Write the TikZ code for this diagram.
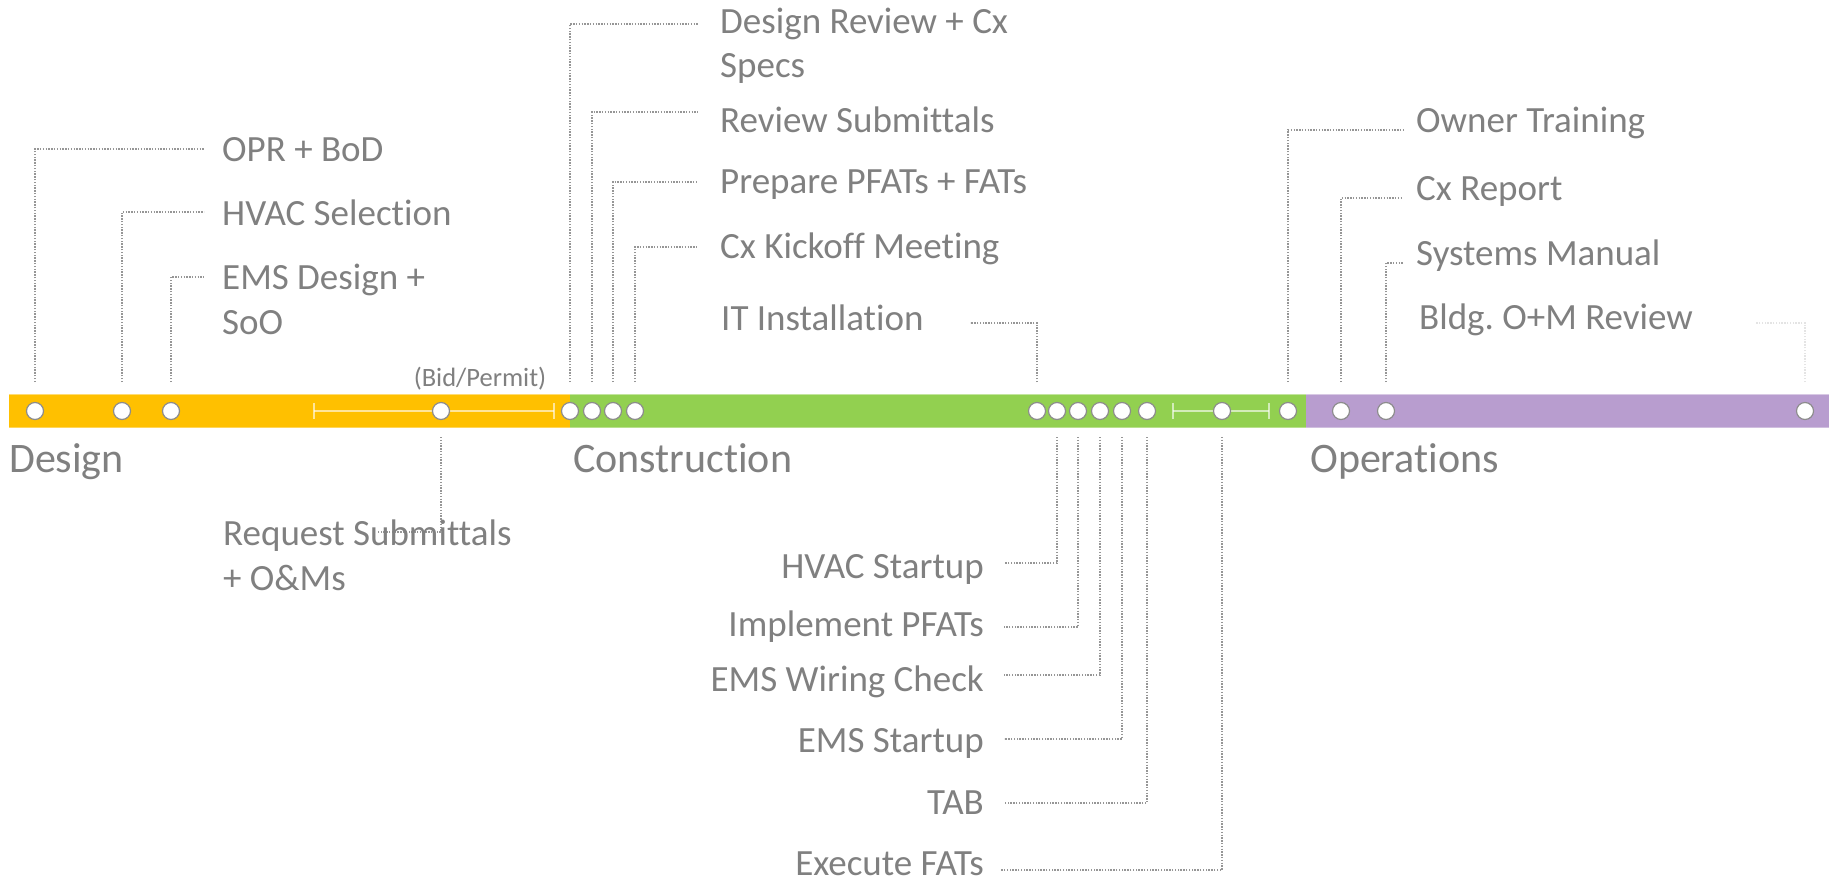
\documentclass[tikz,border=0pt]{standalone}
\usepackage{fontspec}
\setmainfont{Carlito}[Ligatures={NoCommon}]
\frenchspacing
\definecolor{phYellow}{HTML}{FFC000}
\definecolor{phGreen}{HTML}{92D050}
\definecolor{phPurple}{RGB}{184,157,207}
\definecolor{txtgray}{RGB}{128,128,128}
\definecolor{leadgray}{RGB}{150,150,150}
\definecolor{leadpale}{RGB}{228,228,228}
\definecolor{circgray}{RGB}{140,140,140}
\tikzset{
  milestone/.style={circle, draw=circgray, fill=white, line width=1.2pt, minimum size=17pt, inner sep=0pt},
  leader/.style={leadgray, line width=1.4pt, dash pattern=on 1.4pt off 1.4pt},
  paleleader/.style={leader, leadpale},
  lbl/.style={text=txtgray, font=\fontsize{37}{45}\selectfont, inner sep=0pt, anchor=base west},
  lblr/.style={lbl, anchor=base east},
  phase/.style={text=txtgray, font=\fontsize{42}{50}\selectfont, inner sep=0pt, anchor=base west},
  small/.style={text=txtgray, font=\fontsize{26.5}{30}\selectfont, inner sep=0pt, anchor=base},
  interval/.style={white, opacity=0.6, line width=1.6pt},
}
\begin{document}
\begin{tikzpicture}[x=1pt,y=-1pt]
\useasboundingbox[fill=white] (0,0) rectangle (1835,880);
% phase bar
\fill[phYellow] (9,394) rectangle (570,428);
\fill[phGreen] (570,394) rectangle (1306,428);
\fill[phPurple] (1306,394) rectangle (1829,428);
\draw[white, opacity=0.45, line width=1.2pt] (9,394.6) -- (1829,394.6);
\draw[white, opacity=0.35, line width=1.2pt] (9,427.4) -- (1829,427.4);
% intervals
\coordinate (iA) at (314,411);
\coordinate (iB) at (554,411);
\coordinate (iC) at (1173,411);
\coordinate (iD) at (1269,411);
\draw[interval] (iA) -- (iB);
\draw[interval] ([yshift=8pt]iA) -- ([yshift=-8pt]iA);
\draw[interval] ([yshift=8pt]iB) -- ([yshift=-8pt]iB);
\draw[interval] (iC) -- (iD);
\draw[interval] ([yshift=8pt]iC) -- ([yshift=-8pt]iC);
\draw[interval] ([yshift=8pt]iD) -- ([yshift=-8pt]iD);
% milestones
\foreach \n/\x in {1/35,2/122,3/171,4/441,5/570,6/592,7/613,8/635,9/1037,10/1057,11/1078,12/1100,13/1122,14/1147,15/1222,16/1288,17/1341,18/1386,19/1805}
  \node[milestone] (c\n) at (\x,411) {};
% leader reference lines
\coordinate (tl) at (0,382);
\coordinate (bl) at (0,437);
% leader ends
\coordinate (eOPR) at (204,149);
\coordinate (eHVAC) at (204,212);
\coordinate (eEMS) at (204,277);
\coordinate (eDR) at (698,24);
\coordinate (eRS) at (698,112);
\coordinate (ePP) at (698,182);
\coordinate (eCK) at (698,247);
\coordinate (eIT) at (970,323);
\coordinate (eOT) at (1403,130);
\coordinate (eCR) at (1403,198);
\coordinate (eSM) at (1403,263);
\coordinate (eBM) at (1756,323);
\coordinate (eRSub) at (378,532);
\coordinate (eHS) at (1004,563);
\coordinate (eIP) at (1004,627);
\coordinate (eEW) at (1004,675);
\coordinate (eES) at (1004,739);
\coordinate (eTAB) at (1004,803);
\coordinate (eEF) at (1001,870);
% leaders above
\draw[leader] (c1 |- tl) |- (eOPR);
\draw[leader] (c2 |- tl) |- (eHVAC);
\draw[leader] (c3 |- tl) |- (eEMS);
\draw[leader] (c5 |- tl) |- (eDR);
\draw[leader] (c6 |- tl) |- (eRS);
\draw[leader] (c7 |- tl) |- (ePP);
\draw[leader] (c8 |- tl) |- (eCK);
\draw[leader] (c9 |- tl) |- (eIT);
\draw[leader] (c16 |- tl) |- (eOT);
\draw[leader] (c17 |- tl) |- (eCR);
\draw[leader] (c18 |- tl) |- (eSM);
\draw[paleleader] (c19 |- tl) |- (eBM);
% leaders below
\draw[leader] (c4 |- bl) |- (eRSub);
\draw[leader] (c10 |- bl) |- (eHS);
\draw[leader] (c11 |- bl) |- (eIP);
\draw[leader] (c12 |- bl) |- (eEW);
\draw[leader] (c13 |- bl) |- (eES);
\draw[leader] (c14 |- bl) |- (eTAB);
\draw[leader] (c15 |- bl) |- (eEF);
% labels above
\node[lbl] (tOPR) at (222,161) {OPR + BoD};
\node[lbl] (tHVAC) at (222,225) {HVAC Selection};
\node[lbl] (tEMS) at (222,289) {EMS Design +};
\node[lbl] (tEMSb) at (222,334) {SoO};
\node[lbl] (tDR) at (720,34) {Design Review + Cx};
\node[lbl] (tDRb) at (720,78) {Specs};
\node[lbl] (tRS) at (720,132) {Review Submittals};
\node[lbl] (tPP) at (720,193) {Prepare PFATs + FATs};
\node[lbl] (tCK) at (720,258) {Cx Kickoff Meeting};
\node[lbl] (tIT) at (721,330) {IT Installation};
\node[lbl] (tOT) at (1416,132) {Owner Training};
\node[lbl] (tCR) at (1416,200) {Cx Report};
\node[lbl] (tSM) at (1416,265) {Systems Manual};
\node[lbl] (tBM) at (1419,329) {Bldg. O+M Review};
\node[small] (tBid) at (480,386) {(Bid/Permit)};
% labels below
\node[lbl] (tRSub) at (223,545) {Request Submittals};
\node[lbl] (tRSubb) at (223,590) {+ O\&Ms};
\node[lblr] (tHS) at (984,578) {HVAC Startup};
\node[lblr] (tIP) at (984,636) {Implement PFATs};
\node[lblr] (tEW) at (984,691) {EMS Wiring Check};
\node[lblr] (tES) at (984,752) {EMS Startup};
\node[lblr] (tTAB) at (984,814) {TAB};
\node[lblr] (tEF) at (984,875) {Execute FATs};
% phases
\node[phase] (pD) at (9,472) {Design};
\node[phase] (pC) at (573,472) {Construction};
\node[phase] (pO) at (1310,472) {Operations};
\end{tikzpicture}
\end{document}
